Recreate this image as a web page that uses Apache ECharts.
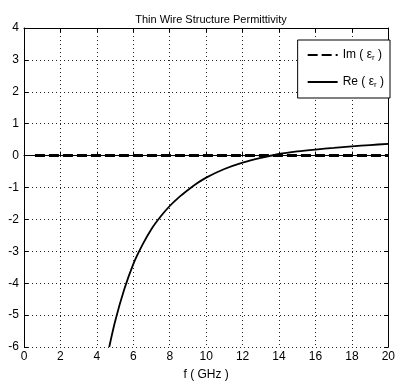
<!DOCTYPE html>
<html>
<head>
<meta charset="utf-8">
<script src="https://cdn.jsdelivr.net/npm/echarts@6/dist/echarts.min.js"></script>
<style>html,body{margin:0;padding:0;background:#fff;}#c{width:398px;height:386px;}</style>
</head>
<body>
<div id="c"></div>
<script>
var freqRe = [4.68, 5.0, 5.5, 6.0, 6.5, 7.0, 7.5, 8.0, 8.5, 9.0, 9.5, 10.0, 11.0, 12.0, 13.0, 14.0, 15.0, 16.0, 17.0, 18.0, 19.0, 20.0];
var valRe  = [-6.0, -5.2, -4.2, -3.4, -2.8, -2.3, -1.91, -1.58, -1.31, -1.08, -0.87, -0.69, -0.42, -0.22, -0.07, 0.05, 0.13, 0.19, 0.24, 0.29, 0.33, 0.37];
var freqIm = [0.6, 20];
var valIm  = [0, 0];
var xTicks = {min: 0, max: 20, interval: 2};
var yTicks = {min: -6, max: 4, interval: 1};

function pairs(xs, ys){ return xs.map(function(x,i){ return [x, ys[i]]; }); }

var font = 'Liberation Sans, Arial, sans-serif';
var chart = echarts.init(document.getElementById('c'));
var tickCommon = {inside: true, length: 4, lineStyle: {color: '#000'}};
chart.setOption({
  animation: false,
  backgroundColor: '#fff',
  title: {
    text: 'Thin Wire Structure Permittivity',
    left: 206, top: 9, textAlign: 'center',
    textStyle: {fontFamily: font, fontSize: 11, fontWeight: 'normal', color: '#000'}
  },
  grid: {left: 24, right: 7, top: 28, bottom: 36, containLabel: false},
  legend: {
    orient: 'vertical',
    right: 8, top: 40,
    backgroundColor: '#fff',
    borderColor: '#000', borderWidth: 1,
    padding: [9, 6, 9, 9],
    itemGap: 14,
    itemWidth: 30, itemHeight: 12,
    itemStyle: {color: 'rgba(0,0,0,0)', borderWidth: 0},
    data: ['Im', 'Re'],
    formatter: function(n){ return n + ' ( {e|ε}{s|r} )'; },
    textStyle: {
      fontFamily: font, fontSize: 12, color: '#000',
      rich: {
        e: {fontFamily: font, fontSize: 12, color: '#000'},
        s: {fontFamily: font, fontSize: 8, color: '#000', verticalAlign: 'bottom', padding: [6, 0, 0, 0]}
      }
    }
  },
  xAxis: [{
    type: 'value', min: xTicks.min, max: xTicks.max, interval: xTicks.interval,
    name: 'f ( GHz )', nameLocation: 'middle', nameGap: 22,
    nameTextStyle: {fontFamily: font, fontSize: 12, color: '#000'},
    axisLine: {lineStyle: {color: '#000'}},
    axisTick: tickCommon,
    axisLabel: {fontFamily: font, fontSize: 12, color: '#000', margin: 4},
    splitLine: {show: true, lineStyle: {color: '#222', type: [1, 3], width: 1}}
  }, {
    type: 'value', position: 'top', min: xTicks.min, max: xTicks.max, interval: xTicks.interval,
    axisLine: {show: true, onZero: false, lineStyle: {color: '#000'}},
    axisTick: tickCommon, axisLabel: {show: false}, splitLine: {show: false}
  }],
  yAxis: [{
    type: 'value', min: yTicks.min, max: yTicks.max, interval: yTicks.interval,
    axisLine: {show: true, onZero: false, lineStyle: {color: '#000'}},
    axisTick: {show: true, inside: true, length: 4, lineStyle: {color: '#000'}},
    axisLabel: {fontFamily: font, fontSize: 12, color: '#000', margin: 5},
    splitLine: {show: true, lineStyle: {color: '#222', type: [1, 3], width: 1}}
  }, {
    type: 'value', position: 'right', min: yTicks.min, max: yTicks.max, interval: yTicks.interval,
    axisLine: {show: true, onZero: false, lineStyle: {color: '#000'}},
    axisTick: {show: true, inside: true, length: 4, lineStyle: {color: '#000'}},
    axisLabel: {show: false}, splitLine: {show: false}
  }],
  series: [{
    name: 'Im', type: 'line', symbol: 'none', showSymbol: false,
    data: pairs(freqIm, valIm),
    lineStyle: {color: '#000', width: 3, type: [10, 4]},
    itemStyle: {color: '#000'}
  }, {
    name: 'Re', type: 'line', symbol: 'none', showSymbol: false, smooth: 0.3,
    data: pairs(freqRe, valRe),
    lineStyle: {color: '#000', width: 1.8, type: 'solid'},
    itemStyle: {color: '#000'}
  }]
});
</script>
</body>
</html>
